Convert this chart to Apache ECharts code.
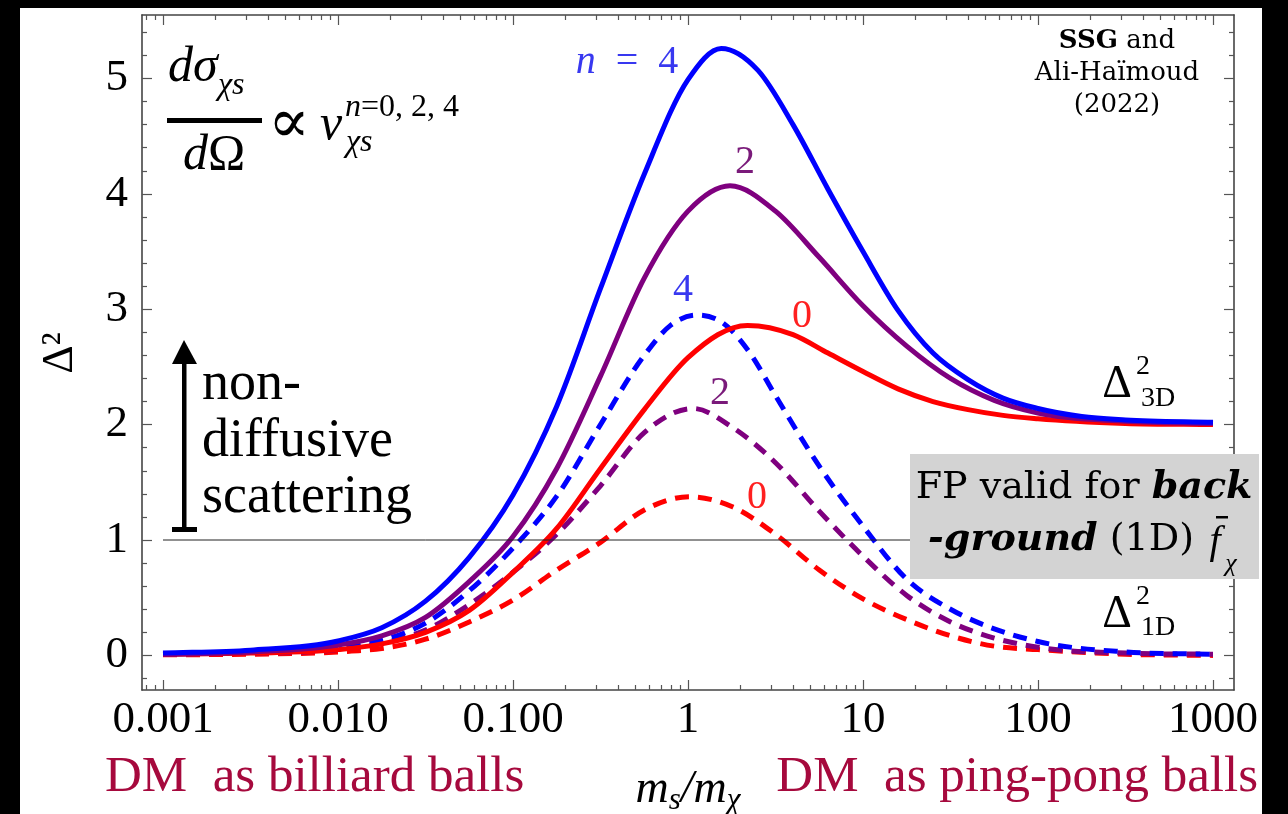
<!DOCTYPE html>
<html>
<head>
<meta charset="utf-8">
<script src="https://cdn.jsdelivr.net/npm/echarts@6/dist/echarts.min.js"></script>
<style>
html,body{margin:0;padding:0;background:#000;}
#paper{position:absolute;left:20px;top:8px;width:1242px;height:806px;background:#fff;}
#main{position:absolute;left:0;top:0;width:1288px;height:814px;}
</style>
</head>
<body>
<div id="paper"></div>
<div id="main"></div>
<script>
// x values are log10(m_s / m_chi); each curve at its own points

// Delta^2 3D (solid)
var blue3DX   = [-3, -2.5, -2, -1.75, -1.5, -1.25, -1, -0.75, -0.5, -0.25, 0, 0.19, 0.4, 0.6, 0.8, 1.0, 1.2, 1.4, 1.6, 1.8, 2.0, 2.25, 2.5, 3];
var blue3DY   = [0.02, 0.045, 0.125, 0.24, 0.47, 0.85, 1.39, 2.16, 3.18, 4.17, 4.99, 5.26, 5.07, 4.60, 4.04, 3.50, 2.99, 2.62, 2.39, 2.23, 2.14, 2.07, 2.04, 2.02];
var purple3DX = [-3, -2.5, -2, -1.75, -1.5, -1.25, -1, -0.75, -0.5, -0.25, 0, 0.24, 0.5, 0.75, 1.0, 1.25, 1.5, 1.75, 2.0, 2.5, 3];
var purple3DY = [0.01, 0.03, 0.09, 0.17, 0.33, 0.64, 1.03, 1.62, 2.42, 3.27, 3.85, 4.07, 3.85, 3.45, 3.03, 2.68, 2.40, 2.21, 2.10, 2.03, 2.01];
var red3DX    = [-3, -2.5, -2, -1.75, -1.5, -1.25, -1, -0.75, -0.5, -0.25, 0, 0.34, 0.6, 0.8, 1.0, 1.2, 1.4, 1.6, 1.8, 2.0, 2.5, 3];
var red3DY    = [0.01, 0.02, 0.05, 0.10, 0.20, 0.39, 0.72, 1.10, 1.62, 2.13, 2.58, 2.86, 2.78, 2.62, 2.46, 2.31, 2.20, 2.13, 2.08, 2.05, 2.01, 2.00];

// Delta^2 1D (dashed)
var blue1DX   = [-3, -2.5, -2, -1.75, -1.5, -1.25, -1, -0.75, -0.5, -0.25, -0.1, 0.05, 0.2, 0.35, 0.5, 0.75, 1.0, 1.25, 1.5, 1.75, 2.0, 2.5, 3];
var blue1DY   = [0.01, 0.03, 0.07, 0.13, 0.28, 0.56, 0.93, 1.38, 2.00, 2.60, 2.86, 2.95, 2.88, 2.63, 2.25, 1.64, 1.12, 0.66, 0.40, 0.23, 0.12, 0.03, 0.01];
var purple1DX = [-3, -2.5, -2, -1.75, -1.5, -1.25, -1, -0.75, -0.5, -0.25, 0.03, 0.25, 0.5, 0.75, 1.0, 1.25, 1.5, 1.75, 2.0, 2.5, 3];
var purple1DY = [0.01, 0.02, 0.05, 0.11, 0.22, 0.44, 0.72, 1.05, 1.47, 1.93, 2.14, 1.98, 1.67, 1.25, 0.86, 0.52, 0.29, 0.15, 0.07, 0.02, 0.01];
var red1DX    = [-3, -2.5, -2, -1.75, -1.5, -1.25, -1, -0.75, -0.5, -0.25, 0.01, 0.25, 0.5, 0.75, 1.0, 1.25, 1.5, 1.75, 2.0, 2.5, 3];
var red1DY    = [0.005, 0.01, 0.03, 0.06, 0.14, 0.29, 0.48, 0.74, 0.98, 1.26, 1.375, 1.29, 1.05, 0.74, 0.49, 0.31, 0.17, 0.08, 0.05, 0.01, 0.0];

// Delta^2 = 1 reference line
var refLineX = [-3, 3];
var refLineY = [1, 1];

var xTickValues = [-3, -2, -1, 0, 1, 2, 3];
var xTickLabels = ['0.001', '0.010', '0.100', '1', '10', '100', '1000'];
var yTickValues = [0, 1, 2, 3, 4, 5];
var yTickLabels = ['0', '1', '2', '3', '4', '5'];

var xMin = -3.12, xMax = 3.12, yMin = -0.3, yMax = 5.55;

// minor ticks: 2..9 per decade on x, every 0.2 on y
var xMinor = [];
for (var d = -4; d <= 3; d++) {
  for (var k = 2; k <= 9; k++) {
    var v = Math.log10(k) + d;
    if (v > xMin && v < xMax) xMinor.push(v);
  }
}
var yMinor = [];
for (var j = -1; j <= 27; j++) {
  if (j % 5 !== 0) yMinor.push(j * 0.2);
}

function pairs(xs, ys) {
  return xs.map(function (x, i) { return [x, ys[i]]; });
}

var SERIF = '"Liberation Serif", "DejaVu Serif", serif';
var GEO = '"DejaVu Serif", serif';

function xAx(pos, ticks, len, labels) {
  return {
    type: 'value', position: pos, min: xMin, max: xMax,
    axisLine: { show: ticks === xTickValues, onZero: false, lineStyle: { color: '#444', width: 1.6 } },
    axisTick: { show: true, inside: true, length: len, customValues: ticks, lineStyle: { color: '#555', width: 1.2 } },
    axisLabel: {
      show: labels, customValues: xTickValues, margin: 8,
      fontFamily: SERIF, fontSize: 45, color: '#000',
      formatter: function (v) { return xTickLabels[xTickValues.indexOf(Math.round(v))]; }
    },
    splitLine: { show: false }
  };
}
function yAx(pos, ticks, len, labels) {
  return {
    type: 'value', position: pos, min: yMin, max: yMax,
    axisLine: { show: ticks === yTickValues, onZero: false, lineStyle: { color: '#444', width: 1.6 } },
    axisTick: { show: true, inside: true, length: len, customValues: ticks, lineStyle: { color: '#555', width: 1.2 } },
    axisLabel: {
      show: labels, customValues: yTickValues, margin: 14,
      fontFamily: SERIF, fontSize: 45, color: '#000',
      formatter: function (v) { return yTickLabels[yTickValues.indexOf(Math.round(v))]; }
    },
    splitLine: { show: false }
  };
}

// smooth cubic through the read points (parabolic tangents, flat at the peak),
// placed with the axes' own scales
function curve(xs, ys, color, dashed) {
  return {
    type: 'custom', coordinateSystem: 'cartesian2d', data: pairs(xs, ys), silent: true, animation: false,
    renderItem: function (params, api) {
      if (params.dataIndex !== 0) return;
      var p = xs.map(function (x, i) { return api.coord([x, ys[i]]); });
      var n = p.length, h = [], m = [], t = [];
      for (var i = 0; i < n - 1; i++) {
        h[i] = p[i + 1][0] - p[i][0];
        m[i] = (p[i + 1][1] - p[i][1]) / h[i];
      }
      t[0] = m[0]; t[n - 1] = m[n - 2];
      for (i = 1; i < n - 1; i++) {
        if (m[i - 1] * m[i] <= 0) { t[i] = 0; continue; }
        t[i] = (h[i] * m[i - 1] + h[i - 1] * m[i]) / (h[i - 1] + h[i]);
      }
      var path = 'M' + p[0][0] + ' ' + p[0][1];
      for (i = 0; i < n - 1; i++) {
        var dx = h[i] / 3;
        path += ' C' + (p[i][0] + dx) + ' ' + (p[i][1] + t[i] * dx) + ' ' +
                (p[i + 1][0] - dx) + ' ' + (p[i + 1][1] - t[i + 1] * dx) + ' ' +
                p[i + 1][0] + ' ' + p[i + 1][1];
      }
      return {
        type: 'path', shape: { pathData: path },
        style: { fill: null, stroke: color, lineWidth: 5, lineDash: dashed ? [14, 9] : null }
      };
    }
  };
}

function txt(x, y, text, size, color, extra) {
  var st = { text: text, fontFamily: SERIF, fontSize: size, fill: color || '#000',
             align: 'center', verticalAlign: 'middle' };
  for (var key in (extra || {})) st[key] = extra[key];
  return { type: 'text', x: x, y: y, z: 100, style: st };
}

var chart = echarts.init(document.getElementById('main'), null, { renderer: 'canvas' });

var option = {
  backgroundColor: 'transparent',
  animation: false,
  grid: { left: 142, right: 54, top: 15, bottom: 124, containLabel: false },
  xAxis: [
    xAx('bottom', xTickValues, 10, true),
    xAx('bottom', xMinor, 5, false),
    xAx('top', xTickValues, 10, false),
    xAx('top', xMinor, 5, false)
  ],
  yAxis: [
    yAx('left', yTickValues, 10, true),
    yAx('left', yMinor, 5, false),
    yAx('right', yTickValues, 10, false),
    yAx('right', yMinor, 5, false)
  ],
  series: [
    {
      type: 'line', data: pairs(refLineX, refLineY), symbol: 'none', animation: false, silent: true,
      lineStyle: { color: '#222', width: 1 }
    },
    curve(red1DX, red1DY, '#ff0000', true),
    curve(purple1DX, purple1DY, '#7f007f', true),
    curve(blue1DX, blue1DY, '#0000ff', true),
    curve(red3DX, red3DY, '#ff0000', false),
    curve(purple3DX, purple3DY, '#7f007f', false),
    curve(blue3DX, blue3DY, '#0000ff', false)
  ],
  graphic: [
    // y axis name
    { type: 'text', x: 60, y: 353, rotation: Math.PI / 2, z: 100,
      style: { text: 'Δ²', fontFamily: SERIF, fontSize: 44, fill: '#000', align: 'center', verticalAlign: 'middle' } },

    // x axis name and regime labels
    { type: 'text', x: 688, y: 790, z: 100,
      style: { text: '{i|m}{s|s}{i|/m}{s|χ}', fontFamily: SERIF, fontSize: 46, fill: '#000',
               align: 'center', verticalAlign: 'middle',
               rich: { i: { fontStyle: 'italic', fontSize: 46, fontFamily: SERIF },
                       s: { fontStyle: 'italic', fontSize: 31, fontFamily: SERIF, padding: [22, 0, 0, 0] } } } },
    txt(105, 778, 'DM  as billiard balls', 51, '#a6093d', { align: 'left' }),
    txt(1258, 778, 'DM  as ping-pong balls', 51, '#a6093d', { align: 'right' }),

    // cross-section formula
    txt(168, 68, 'dσ', 50, '#000', { align: 'left', fontStyle: 'italic' }),
    txt(218, 86, 'χs', 32, '#000', { align: 'left', fontStyle: 'italic' }),
    { type: 'rect', z: 100, shape: { x: 167, y: 118, width: 95, height: 5 }, style: { fill: '#000' } },
    { type: 'text', x: 214, y: 156, z: 100,
      style: { text: '{i|d}{r|Ω}', fontFamily: SERIF, fontSize: 50, fill: '#000', align: 'center', verticalAlign: 'middle',
               rich: { i: { fontStyle: 'italic', fontSize: 50, fontFamily: SERIF }, r: { fontSize: 50, fontFamily: SERIF } } } },
    txt(289, 126, '∝', 62, '#000'),
    txt(320, 126, 'v', 50, '#000', { align: 'left', fontStyle: 'italic' }),
    { type: 'text', x: 345, y: 108, z: 100,
      style: { text: '{i|n}{r|=0, 2, 4}', fontFamily: SERIF, fontSize: 32, fill: '#000', align: 'left', verticalAlign: 'middle',
               rich: { i: { fontStyle: 'italic', fontSize: 32, fontFamily: SERIF }, r: { fontSize: 32, fontFamily: SERIF } } } },
    txt(346, 143, 'χs', 32, '#000', { align: 'left', fontStyle: 'italic' }),

    // credit
    { type: 'text', x: 1117, y: 41, z: 100,
      style: { text: '{b|SSG}{r| and}', fontFamily: GEO, fontSize: 26, fill: '#000', align: 'center', verticalAlign: 'middle',
               rich: { b: { fontWeight: 'bold', fontSize: 26, fontFamily: GEO }, r: { fontSize: 26, fontFamily: GEO } } } },
    txt(1117, 73, 'Ali-Haïmoud', 26, '#000', { fontFamily: GEO }),
    txt(1117, 105, '(2022)', 26, '#000', { fontFamily: GEO }),

    // non-diffusive arrow
    { type: 'rect', z: 100, shape: { x: 182, y: 360, width: 4.5, height: 170 }, style: { fill: '#000' } },
    { type: 'polygon', z: 100, shape: { points: [[184, 340], [172, 364], [197, 364]] }, style: { fill: '#000' } },
    { type: 'rect', z: 100, shape: { x: 172, y: 527, width: 25, height: 5 }, style: { fill: '#000' } },
    txt(202, 385, 'non-', 54, '#000', { align: 'left' }),
    txt(202, 442, 'diffusive', 54, '#000', { align: 'left' }),
    txt(202, 498, 'scattering', 54, '#000', { align: 'left' }),

    // curve labels
    { type: 'text', x: 627, y: 62, z: 100,
      style: { text: '{i|n}{r|  =  4}', fontFamily: SERIF, fontSize: 40, fill: '#3838f0', align: 'center', verticalAlign: 'middle',
               rich: { i: { fontStyle: 'italic', fontSize: 40, fontFamily: SERIF }, r: { fontSize: 40, fontFamily: SERIF } } } },
    txt(745, 162, '2', 40, '#7a1a7a'),
    txt(683, 290, '4', 40, '#3838f0'),
    txt(802, 316, '0', 40, '#ff2020'),
    txt(720, 393, '2', 40, '#7a1a7a'),
    txt(757, 497, '0', 40, '#ff2020'),

    // Delta^2 3D / 1D labels
    txt(1117, 385, 'Δ', 46, '#000'),
    txt(1143, 367, '2', 28, '#000'),
    txt(1158, 399, '3D', 28, '#000'),
    txt(1117, 615, 'Δ', 46, '#000'),
    txt(1143, 597, '2', 28, '#000'),
    txt(1158, 628, '1D', 28, '#000'),

    // Fokker-Planck box
    { type: 'rect', z: 100, shape: { x: 910, y: 454, width: 349, height: 125 }, style: { fill: '#d3d3d3' } },
    { type: 'text', x: 1084, y: 488, z: 101,
      style: { text: '{r|FP valid for }{b|back}', fontFamily: GEO, fontSize: 38, fill: '#000', align: 'center', verticalAlign: 'middle',
               rich: { r: { fontSize: 38, fontFamily: GEO }, b: { fontSize: 38, fontFamily: GEO, fontWeight: 'bold', fontStyle: 'italic' } } } },
    { type: 'text', x: 1194, y: 540, z: 101,
      style: { text: '{b|-ground}{r| (1D)}', fontFamily: GEO, fontSize: 38, fill: '#000', align: 'right', verticalAlign: 'middle',
               rich: { r: { fontSize: 38, fontFamily: GEO }, b: { fontSize: 38, fontFamily: GEO, fontWeight: 'bold', fontStyle: 'italic' } } } },
    txt(1215, 542, 'f', 40, '#000', { fontStyle: 'italic' }),
    { type: 'rect', z: 101, shape: { x: 1216, y: 516, width: 12, height: 2.5 }, style: { fill: '#000' } },
    txt(1231, 564, 'χ', 26, '#000', { fontStyle: 'italic' })
  ]
};

chart.setOption(option);
</script>
</body>
</html>
